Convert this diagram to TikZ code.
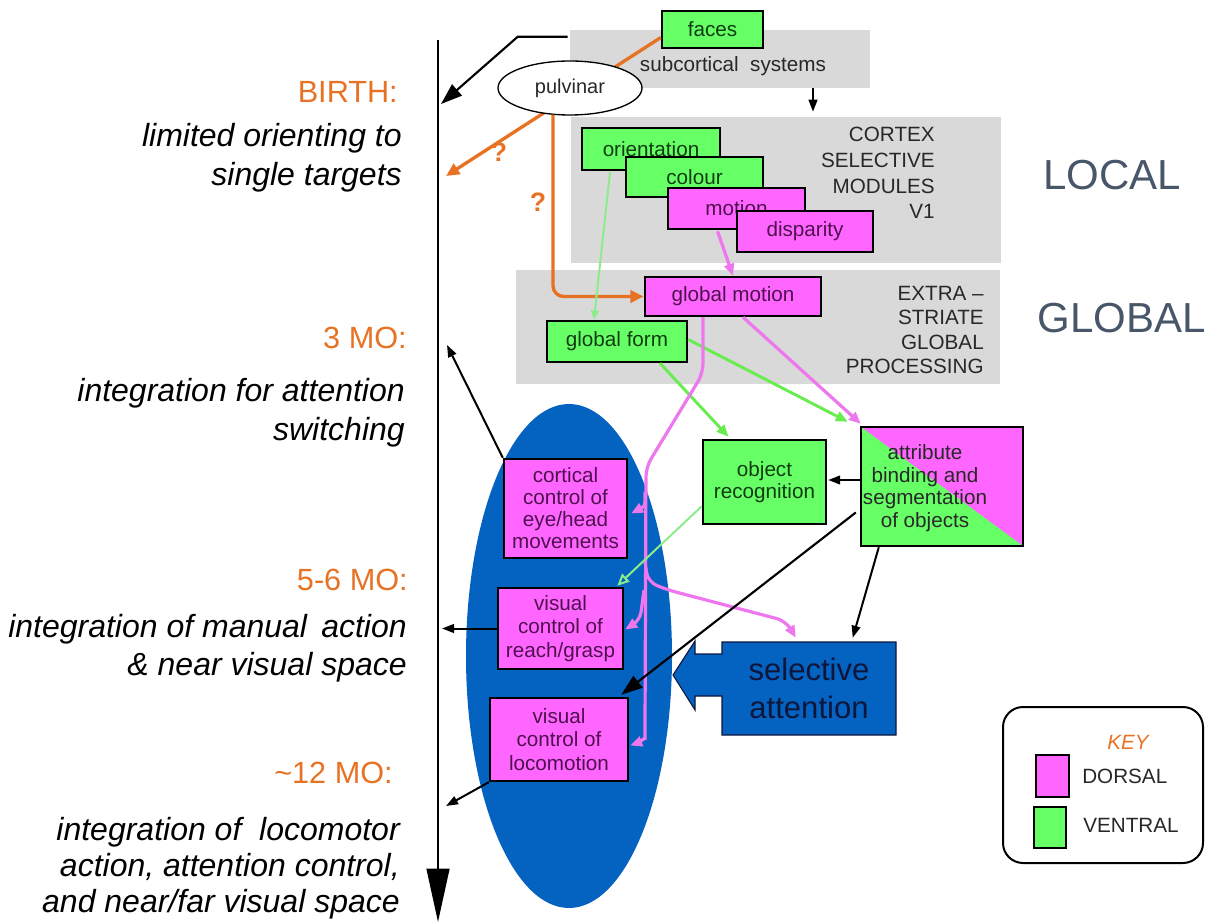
\documentclass[tikz,border=0pt]{standalone}
\usepackage{fontspec}
\setmainfont{Liberation Sans}
\usetikzlibrary{arrows.meta,shapes.geometric,calc}

\definecolor{vgreen}{RGB}{102,255,102}
\definecolor{dmag}{RGB}{255,102,255}
\definecolor{panel}{RGB}{217,217,217}
\definecolor{ageorange}{RGB}{232,114,36}
\definecolor{slate}{RGB}{72,86,106}
\definecolor{vblue}{RGB}{4,98,192}
\definecolor{navy}{RGB}{14,22,60}
\definecolor{magline}{RGB}{238,119,238}
\definecolor{grnline}{RGB}{104,236,80}
\definecolor{paleline}{RGB}{140,236,140}
\definecolor{magtext}{RGB}{80,16,80}
\definecolor{grntext}{RGB}{16,60,16}
\definecolor{labgray}{RGB}{40,40,40}

\tikzset{
  wh/.style 2 args={minimum width=#1*0.75pt, minimum height=#2*0.75pt},
  boxfont/.style={font=\fontsize{15.5}{16.5}\selectfont},
  modbox/.style={draw=black, line width=1.8pt, inner sep=0pt, align=center, boxfont},
  dors/.style={modbox, fill=dmag, text=magtext},
  vent/.style={modbox, fill=vgreen, text=grntext},
  panelbox/.style={fill=panel, draw=none, inner sep=0pt},
  agelabel/.style={text=ageorange, font=\fontsize{23}{28}\selectfont, inner sep=0pt},
  agetext/.style={font=\fontsize{24}{29.25}\selectfont\itshape, align=right, inner sep=0pt},
  paneltext/.style={text=labgray, align=right, inner sep=0pt},
  scalelabel/.style={text=slate, font=\fontsize{31.5}{36}\selectfont, inner sep=0pt},
  blk/.style={draw=black, line width=1.5pt, -{Triangle[length=9pt,width=6.5pt]}},
  blkbig/.style={draw=black, line width=1.6pt, -{Triangle[length=16pt,width=11pt]}},
  oline/.style={draw=ageorange, line width=2.5pt, -{Triangle[length=10pt,width=9pt]}},
  mline/.style={draw=magline, line width=2.4pt, -{Triangle[length=9pt,width=7.5pt]}},
  gline/.style={draw=grnline, line width=2.2pt, -{Triangle[length=9pt,width=7.5pt]}},
  pline/.style={draw=paleline, line width=1.5pt, -{Triangle[length=7pt,width=6pt]}},
}

\begin{document}
\begin{tikzpicture}[x=0.75pt,y=-0.75pt]
\useasboundingbox (0,0) rectangle (1207,923);

% ---------- time axis ----------
\coordinate (tltop) at (438,40);
\coordinate (tlbot) at (438,922);
\draw[line width=1.8pt, -{Triangle[length=40pt,width=17pt]}] (tltop) -- (tlbot);

% ---------- age labels (multi-line texts anchored on their last baseline) ----------
\node[agelabel, anchor=base east] (lbirth) at (398,103) {BIRTH:};
\node[agetext, anchor=base east] (tbirth) at (402,186) {limited orienting to\\single targets};
\node[agelabel, anchor=base east] (l3mo) at (407,349) {3 MO:};
\node[agetext, anchor=base east] (t3mo) at (405,441) {integration for attention\\switching};
\node[agelabel, anchor=base east] (l56) at (408,590) {5-6 MO:};
\node[agetext, anchor=base east, font=\fontsize{24}{28.5}\selectfont\itshape] (t56) at (407,675)
  {integration of manual\hspace{4pt} action\\\& near visual space};
\node[agelabel, anchor=base east] (l12) at (393,783) {\textasciitilde 12 MO:};
\node[agetext, anchor=base east, font=\fontsize{24}{27}\selectfont\itshape] (t12) at (400,912)
  {integration of\ \ locomotor\\action, attention control,\\and near/far visual space};

% ---------- processing panels ----------
\node[panelbox, wh={300}{58}] (subc) at (720,59) {};
\node[panelbox, wh={430}{146}] (cortexp) at (786,190) {};
\node[panelbox, wh={484}{114}] (extrap) at (758,327) {};

\node[boxfont, text=labgray, anchor=base, inner sep=0pt] (subctext) at (733,72) {subcortical\ \ systems};
\node[paneltext, anchor=base east, font=\fontsize{15.5}{19.3}\selectfont] (cortext) at (935,219)
  {CORTEX\\SELECTIVE\\MODULES\\V1};
\node[paneltext, anchor=base east, font=\fontsize{15.5}{18.4}\selectfont] (extratext) at (984,374)
  {EXTRA --\\STRIATE\\GLOBAL\\PROCESSING};

\node[scalelabel] (local) at (1112,175) {LOCAL};
\node[scalelabel] (global) at (1122,318) {GLOBAL};

% ---------- subcortical routes ----------
\coordinate (hitsub) at (441,104);
\draw[blkbig] ($(subc.north west)+(-2,7)$) -- ++(-50,0) -- (hitsub);
\node[vent, wh={101}{37}] (faces) at (712.5,29.5) {faces};
\coordinate (hitbirth) at (446,176);
\draw[oline] ($(faces.west)+(0,8)$) -- (hitbirth);
\node[draw=black, line width=1pt, fill=white, ellipse, wh={144}{54}, inner sep=0pt,
      font=\fontsize{15}{16}\selectfont, text=labgray] (pulv) at (570,88) {pulvinar};
\draw[blk] ($(subc.south)+(93,0)$) -- ($(cortexp.north)+(27,-5)$);

\node[text=ageorange, font=\fontsize{20}{22}\selectfont\bfseries, inner sep=0pt] (q1) at (499,152) {?};
\node[text=ageorange, font=\fontsize{20}{22}\selectfont\bfseries, inner sep=0pt] (q2) at (538,202) {?};

% ---------- V1 modules ----------
\node[vent, wh={138}{42}] (orient) at (651,149) {orientation};
\node[vent, wh={137}{40}] (colour) at (694.5,177) {colour};
\node[dors, wh={137}{41}] (motion) at (736.5,208.5) {motion};
\node[dors, wh={136}{41}] (disp) at (805,231.5) {disparity};

% ---------- extrastriate ----------
\node[dors, wh={176}{39}] (gmot) at (733,296.5) {global motion};
\node[vent, wh={140}{41}] (gform) at (617,341.5) {global form};

\draw[oline, rounded corners=8pt] ($(pulv.south)+(-17,-1)$) |- (gmot.west);
\draw[mline] ($(motion.south)+(-19,1)$) -- (gmot.north);
\draw[pline] ($(orient.south)+(-41,1)$) -- ($(gform.north)+(-23,0)$);

% ---------- action systems ----------
\node[ellipse, fill=vblue, wh={206}{504}, inner sep=0pt] (vis) at (569,656) {};

\node[dors, wh={123}{99}] (cortical) at (565.5,508.5) {cortical\\control\ of\\eye/head\\movements};
\node[dors, wh={125}{81}, font=\fontsize{15.5}{17.5}\selectfont] (reach) at (560.5,628.5) {visual\\control\ of\\reach/grasp};
\node[dors, wh={138}{83}, font=\fontsize{15.5}{17.5}\selectfont] (loco) at (559,739.5) {visual\\control\ of\\locomotion};

\node[vent, wh={123}{84}] (objrec) at (764.5,482) {object\\recognition};
\node[modbox, fill=dmag, wh={162}{119},
      path picture={\fill[vgreen] (path picture bounding box.north west) --
        (path picture bounding box.south east) -- (path picture bounding box.south west) -- cycle;}]
      (attr) at (942,486.5) {};
\node[text=labgray, align=center, inner sep=0pt, font=\fontsize{15.5}{17}\selectfont] (attrtext) at (925,488)
  {attribute\\binding and\\segmentation\\of objects};

% selective attention block arrow
\draw[fill=vblue, draw=navy, line width=0.8pt]
  (722,642) -- (896,642) -- (896,735) -- (722,735) -- (722,696) -- (695,696) -- (695,710)
  -- (673,675) -- (695,641) -- (695,654) -- (722,654) -- cycle;
\node[wh={174}{93}, inner sep=0pt, align=center, text=navy,
      font=\fontsize{23.3}{28}\selectfont] (selatt) at (809,688.5) {selective\\attention};

% ---------- ventral / dorsal streams ----------
\draw[gline] ($(gform.south)+(43,0)$) -- ($(objrec.north)+(-36,-2)$);
\draw[gline] ($(gform.east)+(0,-2)$) -- ($(attr.north west)+(-12,-4)$);
\draw[mline] ($(gmot.south)+(10,0)$) -- ($(attr.north west)+(1,-2)$);

% magenta trunk from global motion down through the action systems
\draw[mline, rounded corners=7pt] ($(gmot.south)+(-30,0)$) -- ++(0,56) -- ++(-57,94) -- ++(-1,262)
  to[out=-90,in=20] ($(loco.east)+(1,6)$);
\coordinate (brcort) at (645,492);
\coordinate (brsel) at (645,562);
\coordinate (brreach) at (644,590);
\draw[mline] (brcort) .. controls (645,506) .. ($(cortical.east)+(3,5)$);
\draw[mline, rounded corners=7pt] (brsel) -- (648,582) -- (668,590) -- (786,621)
  -- ($(selatt.north west)+(74,-4)$);
\draw[mline, rounded corners=6pt] (brreach) -- (640,620) -- ($(reach.east)+(1,1)$);

\draw[draw=paleline, line width=1.5pt, -{Triangle[open, length=9pt, width=8pt]}]
  ($(objrec.south west)+(0,-19)$) -- ($(reach.north east)+(-7,-1)$);

% ---------- black links ----------
\draw[blk] ($(attr.west)+(0,-6.5)$) -- ($(objrec.east)+(1,-2)$);
\draw[blkbig] ($(attr.west)+(-4,26)$) -- ($(loco.north east)+(-8,-2)$);
\draw[blk] ($(attr.south west)+(19,0)$) -- ($(selatt.north west)+(131,-4)$);

\coordinate (hit3mo) at (447,345);
\draw[blk] (cortical.north west) -- (hit3mo);
\draw[blk, shorten >=3pt] (reach.west) -- (reach.west -| tltop);
\coordinate (hit12mo) at (446,806);
\draw[blk] (loco.south west) -- (hit12mo);

% ---------- key ----------
\node[draw=black, line width=1.5pt, rounded corners=15pt, wh={200}{156}] (key) at (1103,785) {};
\node[text=ageorange, font=\fontsize{15.5}{17}\selectfont\itshape, inner sep=0pt] (keytitle) at (1128,742) {KEY};
\node[dors, wh={33}{42}] (keyd) at (1052.5,776) {};
\node[vent, wh={32}{41}] (keyv) at (1050,827.5) {};
\node[boxfont, text=labgray, anchor=west, inner sep=0pt] (dorsaltext) at (1082,776) {DORSAL};
\node[boxfont, text=labgray, anchor=west, inner sep=0pt] (ventraltext) at (1083,825) {VENTRAL};
\end{tikzpicture}
\end{document}
